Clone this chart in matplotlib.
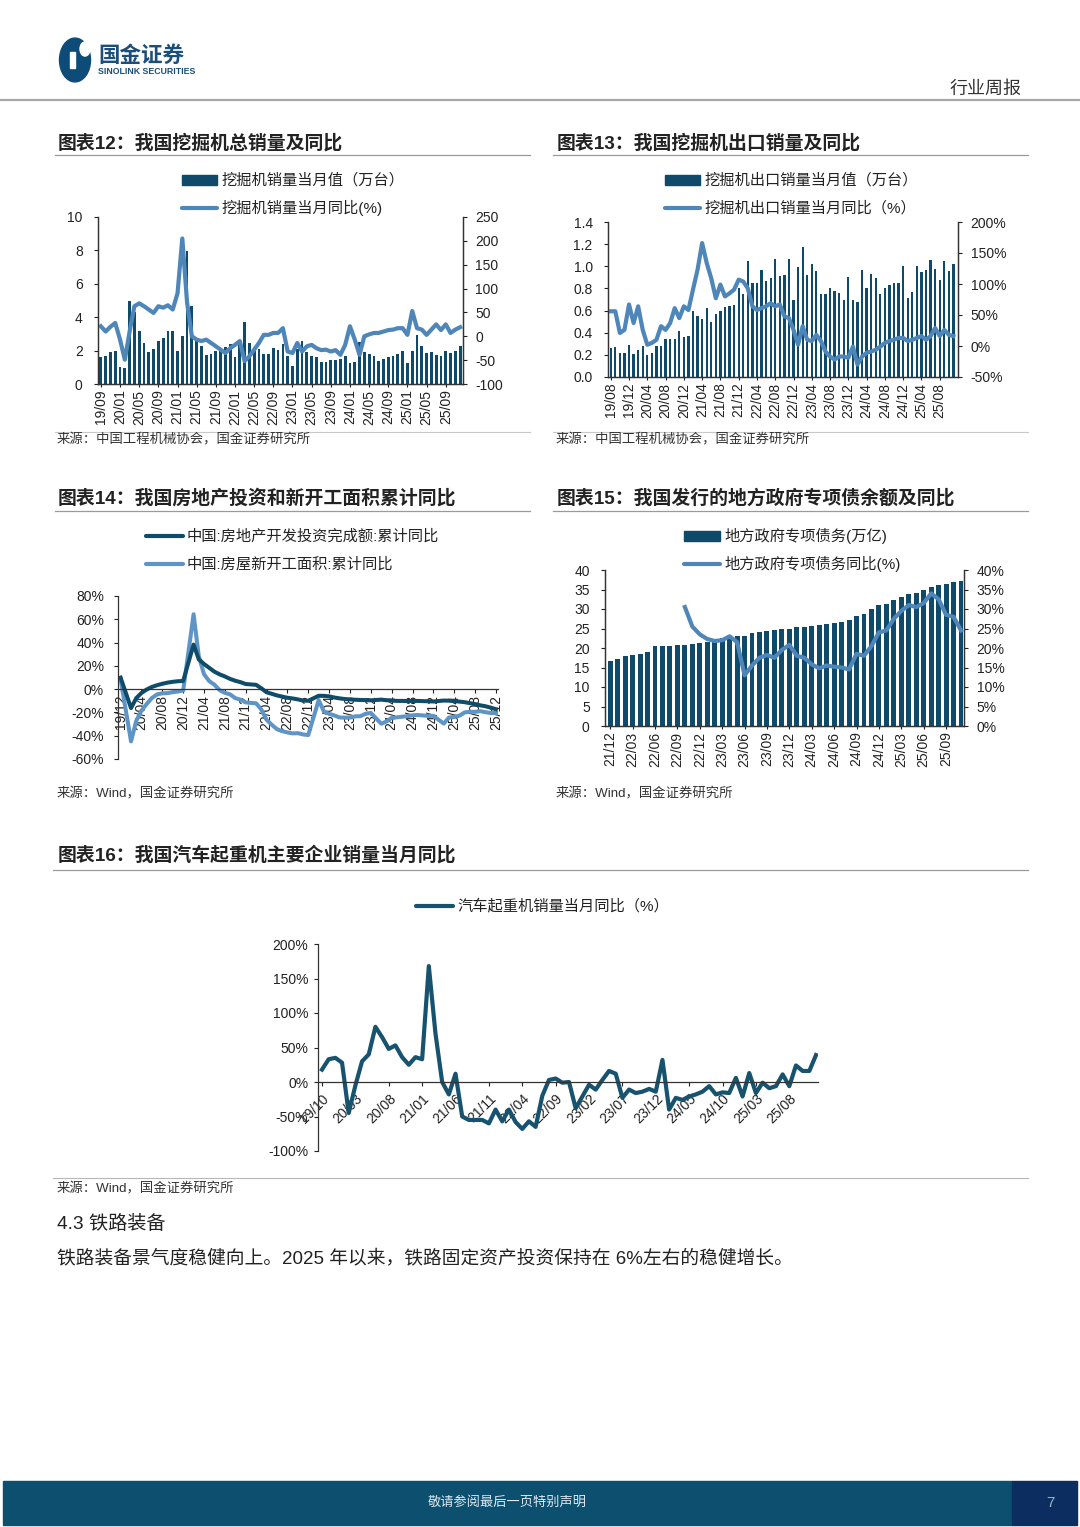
import matplotlib
matplotlib.use('Agg')
import matplotlib.pyplot as plt
import numpy as np
from matplotlib.patches import Rectangle, Circle
from matplotlib.lines import Line2D
import matplotlib.ticker as mticker

plt.rcParams['font.family'] = ['Liberation Sans', 'Noto Sans CJK SC']
plt.rcParams['axes.unicode_minus'] = False

# ---------------- DATA ----------------
# Chart 12: excavator total sales (10k units) and YoY (%), monthly from 2019/09
exc_sales = [1.6, 1.7, 1.9, 2.0, 1.0, 0.95, 4.95, 4.3, 3.2, 2.45, 1.9, 2.1, 2.6, 2.75, 3.2, 3.15,
             2.0, 2.85, 7.95, 4.65, 2.7, 2.3, 1.75, 1.8, 2.0, 2.0, 2.2, 2.4, 1.6, 2.4, 3.7, 2.45,
             2.1, 2.1, 1.8, 1.8, 2.15, 2.05, 2.4, 1.7, 1.05, 2.1, 2.55, 1.9, 1.7, 1.6, 1.3, 1.3,
             1.45, 1.45, 1.5, 1.7, 1.25, 1.3, 2.5, 1.9, 1.8, 1.7, 1.4, 1.5, 1.6, 1.7, 1.8, 1.95,
             1.25, 1.95, 2.95, 2.25, 1.85, 1.9, 1.75, 1.7, 2.0, 1.85, 2.0, 2.3]
exc_yoy = [21, 10, 20, 28, -7, -49, 10, 63, 69, 63, 56, 49, 63, 60, 65, 56,
           90, 205, 70, 0, -7, -10, -7, -14, -21, -28, -35, -25, -18, -10, -52, -42,
           -28, -14, 3, 3, 7, 7, 17, -32, -35, -14, -32, -21, -18, -25, -29, -28,
           -32, -29, -39, -18, 21, -7, -39, 0, 4, 7, 7, 10, 13, 14, 17, 17,
           3, 53, 17, 14, 3, 14, 25, 13, 25, 7, 14, 19]
exc_start = (2019, 9)

# Chart 13: excavator exports (10k units) and YoY (%), monthly from 2019/08
exp_sales = [0.26, 0.27, 0.22, 0.22, 0.29, 0.21, 0.24, 0.28, 0.2, 0.22,
             0.28, 0.28, 0.34, 0.34, 0.34, 0.42, 0.36, 0.37, 0.6, 0.55,
             0.52, 0.62, 0.5, 0.57, 0.6, 0.63, 0.64, 0.65, 0.8, 0.75,
             1.05, 0.85, 0.85, 0.97, 0.87, 0.89, 1.07, 0.91, 0.92, 1.07,
             0.7, 0.99, 1.17, 0.92, 1.02, 0.96, 0.75, 0.75, 0.8, 0.78,
             0.76, 0.7, 0.9, 0.7, 0.68, 0.97, 0.8, 0.93, 0.89, 0.75,
             0.8, 0.83, 0.85, 0.85, 1.0, 0.71, 0.77, 1.0, 0.95, 0.97,
             1.06, 0.98, 0.88, 1.05, 0.96, 1.02]
exp_yoy = [56, 56, 21, 26, 67, 37, 64, 26, 2, 5, 10, 32, 26, 37, 61, 45, 64, 58, 91, 123,
           166, 134, 109, 77, 99, 80, 85, 91, 107, 104, 93, 64, 58, 61, 64, 69, 64, 67, 48, 45,
           26, 2, 32, 10, 8, 18, 8, -9, -17, -22, -17, -17, -19, -1, -30, -17, -11, -9, -6, -1,
           5, 8, 10, 13, 13, 8, 10, 13, 16, 10, 16, 29, 16, 26, 18, 16]
exp_start = (2019, 8)

# Chart 14: real-estate cumulative YoY (%), monthly from 2019/12 (January not published)
inv_yoy = [9.9,
           None, -16.3, -7.7, -3.3, -0.3, 1.9, 3.4, 4.6, 5.6, 6.3, 6.8, 7.0,
           None, 38.3, 25.6, 21.6, 18.3, 15.0, 12.7, 10.9, 8.8, 7.2, 6.0, 4.4,
           None, 3.7, 0.7, -2.7, -4.0, -5.4, -6.4, -7.4, -8.0, -8.8, -9.8, -10.0,
           None, -5.7, -5.8, -6.2, -7.2, -7.9, -8.5, -8.8, -9.1, -9.3, -9.4, -9.6,
           None, -9.0, -9.5, -9.8, -10.1, -10.1, -10.2, -10.2, -10.1, -10.3, -10.4, -10.6,
           None, -9.8, -9.9, -10.3, -10.7, -11.2, -12.0, -12.9, -13.9, -14.7, -15.9, -17.2]
start_yoy = [8.5,
             None, -44.9, -27.2, -18.4, -12.8, -7.6, -4.5, -3.6, -3.4, -2.6, -2.0, -1.2,
             None, 64.3, 28.2, 12.8, 6.9, 3.8, -0.9, -3.2, -4.5, -7.7, -9.1, -11.4,
             None, -12.2, -17.5, -26.3, -30.6, -34.4, -36.1, -37.2, -38.0, -37.8, -38.9, -39.4,
             None, -9.4, -19.2, -21.2, -22.6, -24.3, -24.5, -24.4, -23.4, -23.2, -21.2, -20.4,
             None, -29.7, -27.8, -24.6, -24.2, -23.7, -23.2, -22.5, -22.2, -22.6, -23.0, -23.0,
             None, -29.6, -24.4, -23.8, -22.8, -20.0, -19.4, -19.5, -18.9, -19.8, -20.5, -20.4]
re_start = (2019, 12)

# Chart 15: local special bonds balance (trn yuan) and YoY (%), monthly from 2021/12
bond_bal = [16.6, 17.3, 17.9, 18.2, 18.4, 19.0, 20.4, 20.5, 20.5, 20.8, 20.8, 20.9, 21.3, 21.6,
            22.2, 22.6, 22.8, 23.0, 23.2, 23.8, 24.0, 24.3, 24.6, 24.8, 24.9, 25.3, 25.5, 25.6,
            25.8, 26.2, 26.5, 26.7, 27.3, 28.3, 28.8, 29.9, 30.9, 31.3, 32.4, 33.2, 33.8, 34.2,
            34.9, 35.6, 36.1, 36.5, 36.8, 37.2]
bond_yoy = [None] * 10 + [30.5, 25.5, 23.5, 22.3, 21.8, 22.0, 23.0, 21.5, 13.0, 15.5, 17.5, 18.2,
                          17.5, 19.5, 20.8, 18.0, 17.5, 15.8, 14.8, 15.5, 15.2, 15.0, 14.5, 18.5,
                          18.0, 20.5, 24.0, 24.5, 27.5, 29.5, 31.0, 30.5, 31.5, 34.0, 32.5, 28.5,
                          28.0, 24.5]
bond_start = (2021, 12)

# Chart 16: truck crane sales YoY (%), monthly from 2019/10
crane_yoy = [18, 33, 35, 28, -45, -5, 30, 40, 80, 65, 48, 53, 36, 25, 36, 33,
             168, 70, 0, -18, 12, -50, -55, -55, -55, -60, -40, -57, -40, -58, -68, -57,
             -65, -20, 3, 5, -1, 0, -38, -21, -4, -11, 3, 16, 12, -23, -11, -16,
             -14, -10, -14, 32, -40, -23, -26, -21, -18, -14, -6, -18, -15, -16, 6, -21,
             13, -16, -1, -9, -6, 11, -6, 24, 16, 16, 39]
crane_start = (2019, 10)

# ---------------- STYLE ----------------
BAR = '#0f4a6a'
LINE = '#4f86ba'
DARK = '#0f4c69'
LIGHT = '#5e95c6'
CRANE = '#17536f'
TXT = '#222222'
LEG = 11
SRC = 9.6
TTL = 13.6

W, H = 1080, 1527
fig = plt.figure(figsize=(W / 100, H / 100), dpi=100)


def fx(x):
    return x / W


def fy(y):
    return 1 - y / H


def rect(l, t, r, b):
    return [fx(l), fy(b), (r - l) / W, (b - t) / H]


def month_labels(start, n):
    y, m = start
    out = []
    for k in range(n):
        mm = m - 1 + k
        out.append(f"{(y + mm // 12) % 100:02d}/{mm % 12 + 1:02d}")
    return out


def hline(x0, x1, y, color='#a0a0a0', lw=1.0):
    fig.add_artist(Line2D([fx(x0), fx(x1)], [fy(y), fy(y)], color=color, lw=lw))


def text(x, y, s, size=10.5, **kw):
    kw.setdefault('color', TXT)
    kw.setdefault('va', 'center')
    fig.text(fx(x), fy(y), s, fontsize=size, **kw)


def leg_bar(x0, x1, y, label, color=BAR):
    fig.add_artist(Rectangle((fx(x0), fy(y + 4.5)), (x1 - x0) / W, 9 / H, color=color))
    text(x1 + 4, y, label, size=LEG)


def leg_line(x0, x1, y, label, color=LINE):
    fig.add_artist(Line2D([fx(x0), fx(x1)], [fy(y), fy(y)], color=color, lw=3,
                          solid_capstyle='round'))
    text(x1 + 4, y, label, size=LEG)


def style_ax(ax, right=False):
    ax.spines['top'].set_visible(False)
    if not right:
        ax.spines['right'].set_visible(False)
    for s in ax.spines.values():
        s.set_color('#333333')
        s.set_linewidth(0.9)
    ax.tick_params(labelsize=10, colors=TXT, length=3, width=0.8)


# ---------------- HEADER ----------------
fig.add_artist(Circle((fx(75), fy(60)), 15.5 / W, color='#0d4b78', transform=fig.transFigure))
fig.add_artist(Rectangle((fx(70), fy(68)), 5 / W, 16 / H, color='white'))
fig.add_artist(Circle((fx(85), fy(49)), 5 / W, color='white', transform=fig.transFigure))
text(98, 56, '国金证券', size=15.5, weight='bold', color='#1b4e78')
text(98, 71, 'SINOLINK SECURITIES', size=6.3, weight='bold', color='#1b4e78')
text(1022, 89, '行业周报', size=13, ha='right', color='#333333')
hline(0, 1080, 100, color='#a8a8a8', lw=1.6)

# ---------------- CHART 12 ----------------
text(58, 143, '图表12：我国挖掘机总销量及同比', size=TTL, weight='bold')
hline(55, 530, 155, color='#9a9a9a', lw=0.9)
leg_bar(182, 217, 180, '挖掘机销量当月值（万台）')
leg_line(182, 217, 208, '挖掘机销量当月同比(%)')

ax = fig.add_axes(rect(98, 217, 463, 384))
x = np.arange(len(exc_sales))
ax.bar(x, exc_sales, width=0.58, color=BAR)
ax.set_xlim(-0.6, len(x) - 0.4)
ax.set_ylim(0, 10)
ax.set_yticks(range(0, 11, 2))
lbl = month_labels(exc_start, len(x))
ax.set_xticks(x[::4])
ax.set_xticklabels(lbl[::4], rotation=90)
style_ax(ax, right=True)
ax.tick_params(axis='y', pad=8)
ax.tick_params(axis='x', pad=2, length=2)
ax2 = ax.twinx()
ax2.plot(x, exc_yoy, color=LINE, lw=3.0, solid_joinstyle='round')
ax2.set_ylim(-100, 250)
ax2.set_yticks(range(-100, 251, 50))
style_ax(ax2, right=True)
ax2.tick_params(axis='y', pad=6)

hline(55, 530, 432, color='#c8c8c8', lw=0.8)
text(57, 440, '来源：中国工程机械协会，国金证券研究所', size=SRC, color='#333333')

# ---------------- CHART 13 ----------------
text(557, 143, '图表13：我国挖掘机出口销量及同比', size=TTL, weight='bold')
hline(553, 1028, 155, color='#9a9a9a', lw=0.9)
leg_bar(665, 700, 180, '挖掘机出口销量当月值（万台）')
leg_line(665, 700, 208, '挖掘机出口销量当月同比（%）')

ax = fig.add_axes(rect(608, 222, 958, 377))
x = np.arange(len(exp_sales))
ax.bar(x, exp_sales, width=0.5, color=BAR)
ax.set_xlim(-0.6, len(x))
ax.set_ylim(0, 1.4)
ax.set_yticks(np.arange(0, 1.41, 0.2))
ax.yaxis.set_major_formatter(mticker.FormatStrFormatter('%.1f'))
lbl = month_labels(exp_start, len(x))
ax.set_xticks(x[::4])
ax.set_xticklabels(lbl[::4], rotation=90)
style_ax(ax, right=True)
ax.tick_params(axis='y', pad=8)
ax.tick_params(axis='x', pad=2, length=2)
ax2 = ax.twinx()
ax2.plot(x, exp_yoy, color=LINE, lw=3.0, solid_joinstyle='round')
ax2.set_ylim(-50, 200)
ax2.set_yticks(range(-50, 201, 50))
ax2.yaxis.set_major_formatter(mticker.FuncFormatter(lambda v, p: f'{v:.0f}%'))
style_ax(ax2, right=True)
ax2.tick_params(axis='y', pad=6)

hline(553, 1028, 432, color='#c8c8c8', lw=0.8)
text(556, 440, '来源：中国工程机械协会，国金证券研究所', size=SRC, color='#333333')

# ---------------- CHART 14 ----------------
text(58, 498, '图表14：我国房地产投资和新开工面积累计同比', size=TTL, weight='bold')
hline(55, 530, 511, color='#9a9a9a', lw=0.9)
leg_line(146, 183, 536, '中国:房地产开发投资完成额:累计同比', color=DARK)
leg_line(146, 183, 564, '中国:房屋新开工面积:累计同比', color=LIGHT)

ax = fig.add_axes(rect(118, 596, 498, 759))
n = len(inv_yoy)
style_ax(ax)
ax.spines['bottom'].set_position(('data', 0))
xi = [i for i, v in enumerate(inv_yoy) if v is not None]
xs = [i for i, v in enumerate(start_yoy) if v is not None]
ax.plot(xs, [start_yoy[i] for i in xs], color=LIGHT, lw=2.9, solid_joinstyle='round')
ax.plot(xi, [inv_yoy[i] for i in xi], color=DARK, lw=2.9, solid_joinstyle='round')
ax.set_xlim(-0.5, n - 0.6)
ax.set_ylim(-60, 80)
ax.set_yticks(range(-60, 81, 20))
ax.yaxis.set_major_formatter(mticker.FuncFormatter(lambda v, p: f'{v:.0f}%'))
lbl = month_labels(re_start, n)
ax.set_xticks(np.arange(n)[::4])
ax.set_xticklabels(lbl[::4], rotation=90, va='top', ha='center')
ax.tick_params(labelsize=10, colors=TXT, width=0.8)
ax.tick_params(axis='y', pad=7, length=3)
ax.tick_params(axis='x', pad=1, length=3)

text(57, 794, '来源：Wind，国金证券研究所', size=SRC, color='#333333')

# ---------------- CHART 15 ----------------
text(557, 498, '图表15：我国发行的地方政府专项债余额及同比', size=TTL, weight='bold')
hline(553, 1028, 511, color='#9a9a9a', lw=0.9)
leg_bar(684, 720, 536, '地方政府专项债务(万亿)')
leg_line(684, 720, 564, '地方政府专项债务同比(%)')

ax = fig.add_axes(rect(605, 570, 964, 726))
x = np.arange(len(bond_bal))
ax.bar(x, bond_bal, width=0.66, color=BAR)
ax.set_xlim(-0.7, len(x) - 0.6)
ax.set_ylim(0, 40)
ax.set_yticks(range(0, 41, 5))
lbl = month_labels(bond_start, len(x))
ax.set_xticks(x[::3])
ax.set_xticklabels(lbl[::3], rotation=90)
style_ax(ax, right=True)
ax.tick_params(axis='y', pad=8)
ax.tick_params(axis='x', pad=2, length=2)
ax2 = ax.twinx()
yv = np.array([np.nan if v is None else v for v in bond_yoy])
ax2.plot(x, yv, color=LINE, lw=3.0, solid_joinstyle='round')
ax2.set_ylim(0, 40)
ax2.set_yticks(range(0, 41, 5))
ax2.yaxis.set_major_formatter(mticker.FuncFormatter(lambda v, p: f'{v:.0f}%'))
style_ax(ax2, right=True)
ax2.tick_params(axis='y', pad=6)

text(556, 794, '来源：Wind，国金证券研究所', size=SRC, color='#333333')

# ---------------- CHART 16 ----------------
text(58, 855, '图表16：我国汽车起重机主要企业销量当月同比', size=TTL, weight='bold')
hline(53, 1028, 870, color='#9a9a9a', lw=0.9)
leg_line(416, 453, 906, '汽车起重机销量当月同比（%）', color=CRANE)

ax = fig.add_axes(rect(318, 944, 818, 1151))
style_ax(ax)
ax.spines['bottom'].set_position(('data', 0))
x = np.arange(len(crane_yoy))
ax.plot(x, crane_yoy, color=CRANE, lw=3.0, solid_joinstyle='round')
ax.set_xlim(-0.6, len(x) - 0.7)
ax.set_ylim(-100, 200)
ax.set_yticks(range(-100, 201, 50))
ax.yaxis.set_major_formatter(mticker.FuncFormatter(lambda v, p: f'{v:.0f}%'))
lbl = month_labels(crane_start, len(x))
ax.set_xticks(x[::5])
ax.set_xticklabels(lbl[::5], rotation=45, ha='right', va='top', rotation_mode='anchor')
ax.tick_params(labelsize=10, colors=TXT, width=0.8)
ax.tick_params(axis='y', pad=4, length=3)
ax.tick_params(axis='x', pad=4, length=3)

hline(53, 1028, 1178, color='#b8b8b8', lw=0.8)
text(57, 1189, '来源：Wind，国金证券研究所', size=SRC, color='#333333')

# ---------------- BODY ----------------
text(57, 1224, '4.3 铁路装备', size=13.8)
text(57, 1258, '铁路装备景气度稳健向上。2025 年以来，铁路固定资产投资保持在 6%左右的稳健增长。', size=13.5)

# ---------------- FOOTER ----------------
fig.add_artist(Rectangle((fx(3), fy(1525)), (1012 - 3) / W, 44 / H, color='#0d4f6f'))
fig.add_artist(Rectangle((fx(1012), fy(1525)), (1077 - 1012) / W, 44 / H, color='#0b2d60'))
text(507, 1503, '敬请参阅最后一页特别声明', size=9.5, ha='center', color='#dfe9ef')
text(1050, 1503, '7', size=11, ha='center', color='#9fb2c9')

fig.savefig('out.png', dpi=100)
